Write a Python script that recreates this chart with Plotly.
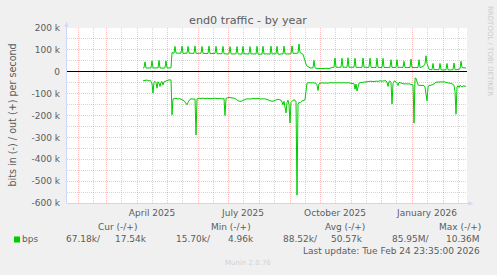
import plotly.graph_objects as go
import pandas as pd

# ---------------- data (values in kbit/s, one per day) ----------------
START = "2025-04-07"

out_k = [
    17, 18, 45, 17, 17, 16, 18, 17, 17, 50,      # d0
    17, 18, 16, 17, 18, 17, 52, 17, 18, 17,      # d10
    16, 17, 18, 50, 18, 17, 17, 18, 18, 88,      # d20
    86, 85, 116, 86, 85, 85, 84, 86, 85, 117,    # d30
    85, 84, 86, 85, 84, 116, 85, 84, 83, 85,     # d40
    84, 85, 118, 84, 85, 83, 84, 85, 84, 116,    # d50
    84, 83, 85, 84, 83, 84, 117, 83, 84, 82,     # d60
    83, 84, 83, 116, 83, 82, 84, 83, 82, 83,     # d70
    116, 82, 83, 82, 81, 83, 82, 115, 82, 81,    # d80
    83, 82, 81, 82, 115, 82, 81, 82, 83, 81,     # d90
    116, 81, 82, 81, 82, 80, 81, 115, 81, 82,    # d100
    80, 81, 82, 81, 116, 81, 80, 82, 81, 80,     # d110
    116, 81, 82, 80, 81, 82, 81, 80, 117, 81,    # d120
    82, 81, 80, 82, 116, 81, 80, 82, 81, 82,     # d130
    81, 117, 82, 81, 83, 82, 81, 82, 83, 118,    # d140
    84, 85, 83, 84, 85, 86, 127, 88, 86, 84,     # d150
    80, 65, 47, 35, 26, 22, 20, 18, 17, 17,      # d160
    18, 52, 18, 16, 15, 15, 14, 15, 15, 14,      # d170
    15, 15, 16, 15, 15, 16, 15, 16, 18, 20,      # d180
    21, 20, 63, 21, 20, 21, 20, 21, 20, 62,      # d190
    20, 21, 20, 19, 20, 64, 20, 21, 20, 19,      # d200
    20, 21, 62, 20, 19, 21, 20, 20, 19, 20,      # d210
    63, 20, 21, 19, 20, 20, 21, 62, 20, 19,      # d220
    20, 21, 20, 19, 62, 20, 21, 20, 19, 20,      # d230
    61, 20, 19, 20, 21, 19, 20, 20, 55, 19,      # d240
    20, 21, 19, 20, 55, 19, 20, 19, 20, 21,      # d250
    19, 48, 19, 20, 18, 19, 20, 19, 58, 19,      # d260
    20, 19, 18, 19, 20, 19, 55, 19, 20, 22,      # d270
    24, 28, 35, 73, 38, 18, 12, 10, 9, 9,        # d280
    38, 9, 10, 9, 8, 9, 9, 38, 9, 8,             # d290
    9, 10, 9, 9, 38, 9, 8, 9, 9, 10,             # d300
    9, 40, 10, 9, 9, 10, 12, 14, 48, 20,         # d310
    18, 17, 18, 17.54,                           # d320
]

in_k = [
    41, 40, 39, 40, 38, 40, 42, 40, 44, 55,      # d0
    98, 48, 44, 50, 75, 46, 52, 67, 48, 45,      # d10
    60, 46, 44, 40, 38, 39, 37, 38, 37, 197,     # d20
    125, 122, 124, 121, 123, 125, 122, 124, 126, 125,  # d30
    128, 132, 138, 145, 151, 140, 130, 126, 124, 125,  # d40
    123, 124, 125, 289, 124, 122, 120, 121, 123, 120,  # d50
    122, 121, 124, 122, 120, 123, 121, 122, 124, 121,  # d60
    123, 122, 120, 123, 121, 124, 122, 121, 123, 125,  # d70
    124, 122, 200, 122, 119, 118, 117, 118, 119, 117,  # d80
    118, 120, 122, 126, 130, 133, 135, 134, 136, 133,  # d90
    130, 128, 126, 125, 124, 123, 124, 125, 123, 124,  # d100
    122, 123, 124, 125, 123, 122, 124, 123, 125, 124,  # d110
    123, 122, 124, 125, 126, 128, 130, 132, 134, 136,  # d120
    135, 133, 130, 128, 127, 126, 127, 128, 130, 138,  # d130
    151, 135, 160, 188, 140, 130, 150, 235, 140, 132,  # d140
    130, 128, 130, 135, 564, 150, 140, 142, 136, 134,  # d150
    132, 130, 128, 90, 52, 50, 51, 50, 52, 51,   # d160
    50, 52, 51, 53, 60, 86, 55, 52, 51, 50,      # d170
    52, 51, 50, 51, 52, 50, 51, 50, 51, 52,      # d180
    50, 51, 50, 52, 51, 50, 51, 50, 52, 51,      # d190
    50, 51, 50, 52, 51, 50, 51, 50, 52, 51,      # d200
    52, 55, 80, 56, 88, 62, 52, 50, 51, 49,      # d210
    48, 47, 46, 45, 46, 44, 45, 44, 43, 45,      # d220
    44, 43, 44, 42, 43, 44, 42, 41, 43, 42,      # d230
    41, 43, 42, 41, 48, 67, 45, 42, 50, 147,     # d240
    55, 44, 42, 46, 52, 63, 48, 50, 52, 54,      # d250
    55, 56, 55, 56, 57, 56, 55, 56, 57, 56,      # d260
    60, 235, 29, 30, 45, 60, 62, 63, 62, 63,     # d270
    62, 64, 70, 100, 133, 70, 62, 63, 62, 60,    # d280
    58, 55, 50, 48, 47, 48, 47, 46, 47, 48,      # d290
    47, 46, 47, 48, 47, 48, 49, 50, 52, 55,      # d300
    58, 62, 90, 194, 70, 64, 72, 62, 66, 70,     # d310
    64, 67, 66, 67.18,                           # d320
]

y_tick_vals = [200000, 100000, 0, -100000, -200000, -300000, -400000, -500000, -600000]
y_tick_text = ["200 k", "100 k", "0", "-100 k", "-200 k", "-300 k", "-400 k", "-500 k", "-600 k"]
y_minor_vals = [150000, 50000, -50000, -150000, -250000, -350000, -450000, -550000]

x_label_dates = ["2025-04-16", "2025-07-16", "2025-10-16", "2026-01-16"]
x_label_text = ["April 2025", "July 2025", "October 2025", "January 2026"]
month_starts = list(pd.date_range("2025-02-01", "2026-02-01", freq="MS"))
mid_months = [d + pd.Timedelta(days=15) for d in pd.date_range("2025-01-01", "2026-02-01", freq="MS")]

legend_headers = ["Cur (-/+)", "Min (-/+)", "Avg (-/+)", "Max (-/+)"]
legend_in = ["67.18k/", "15.70k/", "88.52k/", "85.95M/"]
legend_out = ["17.54k", "4.96k", "50.57k", "10.36M"]

X_RANGE = ["2025-01-21 00:00", "2026-02-25 00:00"]

# ---------------- layout geometry (pixels) ----------------
W, H = 497, 275
PL, PT, PW, PH = 67, 28, 400, 175

def px(x):
    return (x - PL) / PW

def py(y):
    return 1 - (y - PT) / PH

FONT = "DejaVu Sans"
TXT = "#5c5c5c"
GREEN = "#00CC00"
AXIS = "#CFD6F8"
MGRID = "rgba(255,0,0,0.26)"
GRID = "rgba(128,128,128,0.32)"

dates_out = pd.date_range(START, periods=len(out_k), freq="D")
dates_in = pd.date_range(START, periods=len(in_k), freq="D")

fig = go.Figure()
fig.add_trace(go.Scatter(x=dates_in, y=[-v * 1000 for v in in_k], mode="lines",
                         line=dict(color=GREEN, width=1), hoverinfo="skip", showlegend=False))
fig.add_trace(go.Scatter(x=dates_out, y=[v * 1000 for v in out_k], mode="lines",
                         line=dict(color=GREEN, width=1), hoverinfo="skip", showlegend=False))
# carrier for the label axis
fig.add_trace(go.Scatter(x=x_label_dates, y=[None] * len(x_label_dates), xaxis="x2",
                         mode="lines", hoverinfo="skip", showlegend=False))

annotations = []
def note(text, x, y, size=9, color=TXT, xanchor="center", yanchor="middle", angle=0):
    annotations.append(dict(text=text, x=px(x), y=py(y), xref="paper", yref="paper",
                            showarrow=False, xanchor=xanchor, yanchor=yanchor,
                            textangle=angle, font=dict(family=FONT, size=size, color=color)))

note("end0 traffic - by year", 248.3, 21, size=11.2)
note("bits in (-) / out (+) per second", 11.5, 115, size=9.6, angle=-90)
note("RRDTOOL / TOBI OETIKER", 490, 51, size=7, color="#cccccc", angle=90)

header_centers = [117.5, 231, 345, 459.5]
for t, cx in zip(legend_headers, header_centers):
    note(t, cx, 227.5)
note("bps", 20, 239.3, xanchor="left")
in_right = [103, 212.7, 320, 432]
out_right = [149, 256, 365, 482]
for t, rx in zip(legend_in, in_right):
    note(t, rx, 239.3, xanchor="right")
for t, rx in zip(legend_out, out_right):
    note(t, rx, 239.3, xanchor="right")
note("Last update: Tue Feb 24 23:35:00 2026", 482, 250.6, xanchor="right")
note("Munin 2.0.76", 248, 263, size=7, color="#d2d2d2")

shapes = [
    # axis lines
    dict(type="line", xref="paper", yref="paper", x0=px(66.5), x1=px(66.5), y0=py(203), y1=py(25),
         line=dict(color=AXIS, width=1)),
    dict(type="line", xref="paper", yref="paper", x0=px(66.5), x1=px(470), y0=py(203.5), y1=py(203.5),
         line=dict(color=AXIS, width=1)),
    # arrows
    dict(type="path", xref="paper", yref="paper",
         path=f"M {px(64.5)} {py(26.5)} L {px(68.5)} {py(26.5)} L {px(66.5)} {py(21.5)} Z",
         fillcolor=AXIS, line=dict(color=AXIS, width=0)),
    dict(type="path", xref="paper", yref="paper",
         path=f"M {px(468.5)} {py(201.5)} L {px(468.5)} {py(205.5)} L {px(473.5)} {py(203.5)} Z",
         fillcolor=AXIS, line=dict(color=AXIS, width=0)),
    # legend swatch
    dict(type="rect", xref="paper", yref="paper", x0=px(14), x1=px(20), y0=py(242.5), y1=py(236.5),
         fillcolor=GREEN, line=dict(width=0)),
]

fig.update_layout(
    width=W, height=H,
    margin=dict(l=PL, r=W - PL - PW, t=PT, b=H - PT - PH, pad=0),
    paper_bgcolor="#F0F0F0", plot_bgcolor="#FFFFFF",
    showlegend=False,
    font=dict(family=FONT, size=9, color=TXT),
    xaxis=dict(type="date", range=X_RANGE, tickmode="array", tickvals=month_starts,
               ticktext=[""] * len(month_starts), showticklabels=False, ticks="",
               showgrid=True, gridcolor=MGRID, griddash="1px,1px", gridwidth=1,
               minor=dict(tickmode="array", tickvals=mid_months, showgrid=True,
                          gridcolor=GRID, griddash="1px,1px", gridwidth=1, ticks=""),
               zeroline=False, showline=False, fixedrange=True),
    xaxis2=dict(type="date", overlaying="x", matches="x", anchor="y", side="bottom",
                range=X_RANGE, tickmode="array", tickvals=x_label_dates, ticktext=x_label_text,
                showgrid=False, zeroline=False, showline=False, ticks="",
                ticklabelstandoff=3,
                tickfont=dict(family=FONT, size=9, color=TXT), fixedrange=True),
    yaxis=dict(range=[-600000, 200000], tickmode="array", tickvals=y_tick_vals, ticktext=y_tick_text,
               showgrid=True, gridcolor=MGRID, griddash="1px,1px", gridwidth=1,
               minor=dict(tickmode="array", tickvals=y_minor_vals, showgrid=True,
                          gridcolor=GRID, griddash="1px,1px", gridwidth=1, ticks=""),
               zeroline=True, zerolinecolor="#000000", zerolinewidth=1,
               ticks="", ticklabelstandoff=6, showline=False,
               tickfont=dict(family=FONT, size=9, color=TXT), fixedrange=True),
    annotations=annotations,
    shapes=shapes,
)

fig.write_html("out.html", config={"displayModeBar": False, "staticPlot": True})
